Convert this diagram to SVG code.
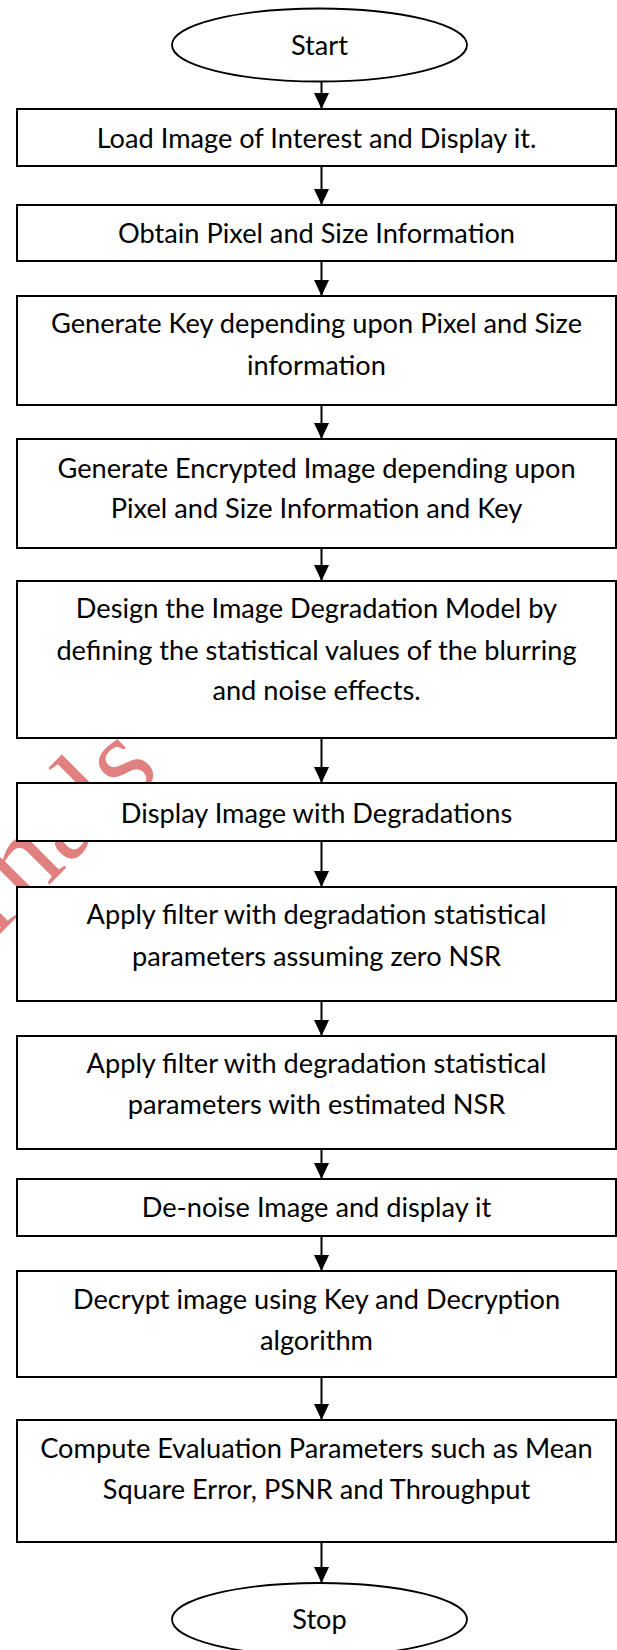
<svg xmlns="http://www.w3.org/2000/svg" width="617" height="1650" viewBox="0 0 617 1650">
<style>
.box{fill:#fff;stroke:#000;stroke-width:2}
.term{fill:#fff;stroke:#000;stroke-width:1.8}
.t{font-family:Lato,"Liberation Sans",sans-serif;font-size:27.2px;fill:#000;text-anchor:middle}
.c{stroke:#000;stroke-width:2;fill:none;marker-end:url(#ah)}
.wm{font-family:"Liberation Serif",serif;font-size:120px;fill:#e08080;text-anchor:end}
</style>
<defs>
<marker id="ah" markerUnits="userSpaceOnUse" viewBox="0 0 16 15" refX="16" refY="7.5" markerWidth="16" markerHeight="15" orient="auto">
<path d="M0,0 L16,7.5 L0,15 z" fill="#000"/>
</marker>
</defs>
<rect width="617" height="1650" fill="#fff"/>
<text class="wm" transform="translate(162,772) rotate(-45)">Journals</text>
<g id="connectors">
<line class="c" x1="321.5" y1="82" x2="321.5" y2="109"/>
<line class="c" x1="321.5" y1="166" x2="321.5" y2="205"/>
<line class="c" x1="321.5" y1="261" x2="321.5" y2="296"/>
<line class="c" x1="321.5" y1="405" x2="321.5" y2="439"/>
<line class="c" x1="321.5" y1="548" x2="321.5" y2="581"/>
<line class="c" x1="321.5" y1="738" x2="321.5" y2="783"/>
<line class="c" x1="321.5" y1="841" x2="321.5" y2="887"/>
<line class="c" x1="321.5" y1="1001" x2="321.5" y2="1036"/>
<line class="c" x1="321.5" y1="1149" x2="321.5" y2="1179"/>
<line class="c" x1="321.5" y1="1236" x2="321.5" y2="1271"/>
<line class="c" x1="321.5" y1="1377" x2="321.5" y2="1420"/>
<line class="c" x1="321.5" y1="1542" x2="321.5" y2="1583"/>
</g>
<g id="start"><ellipse class="term" cx="319.5" cy="45" rx="147.5" ry="36.5"/><text class="t" x="319.5" y="55">Start</text></g>
<g id="n1"><rect class="box" x="17" y="109" width="599" height="57"/><text class="t" x="316.5" y="148">Load Image of Interest and Display it.</text></g>
<g id="n2"><rect class="box" x="17" y="205" width="599" height="56"/><text class="t" x="316.5" y="243">Obtain Pixel and Size Information</text></g>
<g id="n3"><rect class="box" x="17" y="296" width="599" height="109"/><text class="t" x="316.5" y="333">Generate Key depending upon Pixel and Size</text><text class="t" x="316.5" y="375">information</text></g>
<g id="n4"><rect class="box" x="17" y="439" width="599" height="109"/><text class="t" x="316.5" y="478">Generate Encrypted Image depending upon</text><text class="t" x="316.5" y="518">Pixel and Size Information and Key</text></g>
<g id="n5"><rect class="box" x="17" y="581" width="599" height="157"/><text class="t" x="316.5" y="618">Design the Image Degradation Model by</text><text class="t" x="316.5" y="660">defining the statistical values of the blurring</text><text class="t" x="316.5" y="700">and noise effects.</text></g>
<g id="n6"><rect class="box" x="17" y="783" width="599" height="58"/><text class="t" x="316.5" y="823">Display Image with Degradations</text></g>
<g id="n7"><rect class="box" x="17" y="887" width="599" height="114"/><text class="t" x="316.5" y="924">Apply filter with degradation statistical</text><text class="t" x="316.5" y="966">parameters assuming zero NSR</text></g>
<g id="n8"><rect class="box" x="17" y="1036" width="599" height="113"/><text class="t" x="316.5" y="1073">Apply filter with degradation statistical</text><text class="t" x="316.5" y="1114">parameters with estimated NSR</text></g>
<g id="n9"><rect class="box" x="17" y="1179" width="599" height="57"/><text class="t" x="316.5" y="1217">De-noise Image and display it</text></g>
<g id="n10"><rect class="box" x="17" y="1271" width="599" height="106"/><text class="t" x="316.5" y="1309">Decrypt image using Key and Decryption</text><text class="t" x="316.5" y="1350">algorithm</text></g>
<g id="n11"><rect class="box" x="17" y="1420" width="599" height="122"/><text class="t" x="316.5" y="1458">Compute Evaluation Parameters such as Mean</text><text class="t" x="316.5" y="1499">Square Error, PSNR and Throughput</text></g>
<g id="stop"><ellipse class="term" cx="319.5" cy="1619.5" rx="147.5" ry="36.5"/><text class="t" x="319.5" y="1629">Stop</text></g>
</svg>
